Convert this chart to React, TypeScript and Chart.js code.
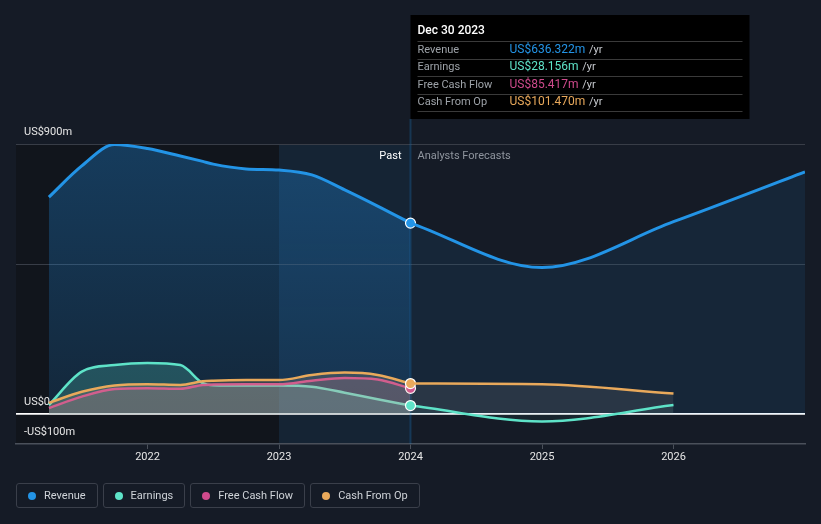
import { useEffect, useRef } from "react";
import { Chart, registerables } from "chart.js";

Chart.register(...registerables);

// ---- data ----
const pastDates = [2021.25, 2021.5, 2021.75, 2022, 2022.25, 2022.42, 2022.5, 2022.75, 2023, 2023.25, 2023.5, 2023.75, 2024];
const revenuePast = [723, 827, 898, 885, 860, 842, 833, 817, 813, 797, 747, 693, 636.322];
const earningsPast = [30, 141, 163, 170, 163, 103, 96, 95, 95, 91, 71, 49, 28.156];
const fcfPast = [20, 58, 83, 86, 84, 97, 98, 99, 99, 111, 120, 115, 85.417];
const cfoPast = [37, 74, 95, 99, 97, 109, 111, 113, 113, 130, 138, 130, 101.47];

const forecastDates = [2024, 2025, 2026, 2027];
const revenueForecast = [636.322, 488, 641, 807];
const earningsForecast = [28.156, -25, 30];
const cfoForecast = [101.47, 99, 68];

const yTickValues = [-100, 0, 500, 900];
const yTickLabels: Record<string, string> = { "900": "US$900m", "0": "US$0", "-100": "-US$100m" };
const xTickValues = [2022, 2023, 2024, 2025, 2026];

const tooltipTitle = "Dec 30 2023";
const tooltipRows = [
  { label: "Revenue", value: "US$636.322m" },
  { label: "Earnings", value: "US$28.156m" },
  { label: "Free Cash Flow", value: "US$85.417m" },
  { label: "Cash From Op", value: "US$101.470m" },
];
const legendLabels = ["Revenue", "Earnings", "Free Cash Flow", "Cash From Op"];

// ---- styles ----
const BLUE = "#2394e6";
const TEAL = "#5ee3c8";
const PINK = "#cf4a8c";
const ORANGE = "#e9a95b";
const seriesColors = [BLUE, TEAL, PINK, ORANGE];
const FONT = "Roboto, 'Noto Sans', sans-serif";
const PAGE_BG = "#151b26";

function pts(xs: number[], ys: number[]) {
  return ys.map((y, i) => ({ x: xs[i], y }));
}

const lastPast = pastDates.length - 1;

const decorPlugin = {
  id: "decor",
  beforeDraw(chart: any) {
    const { ctx, chartArea, scales } = chart;
    const x = scales.x;
    const x2023 = x.getPixelForValue(2023);
    const x2024 = x.getPixelForValue(2024);
    ctx.save();
    ctx.fillStyle = "#11151c";
    ctx.fillRect(chartArea.left, chartArea.top, x2023 - chartArea.left, chartArea.bottom - chartArea.top);
    ctx.fillStyle = "rgba(33,150,243,0.07)";
    ctx.fillRect(x2023, chartArea.top, x2024 - x2023, chartArea.bottom - chartArea.top);
    ctx.restore();
  },
  beforeDatasetsDraw(chart: any) {
    const { ctx, chartArea, scales } = chart;
    const x2024 = scales.x.getPixelForValue(2024);
    ctx.save();
    ctx.strokeStyle = "rgba(33,150,243,0.22)";
    ctx.lineWidth = 2;
    ctx.beginPath();
    ctx.moveTo(x2024, 119);
    ctx.lineTo(x2024, chartArea.bottom);
    ctx.stroke();
    ctx.font = `11px ${FONT}`;
    ctx.textBaseline = "middle";
    ctx.textAlign = "right";
    ctx.fillStyle = "#ffffff";
    ctx.fillText("Past", x2024 - 9, chartArea.top + 12);
    ctx.textAlign = "left";
    ctx.fillStyle = "#8f959e";
    ctx.fillText("Analysts Forecasts", x2024 + 7, chartArea.top + 12);
    ctx.restore();
  },
  afterDraw(chart: any) {
    const { ctx, scales } = chart;
    const x2024 = scales.x.getPixelForValue(2024);
    const left = x2024;
    const top = 15;
    const w = 339;
    const h = 104;
    ctx.save();
    ctx.fillStyle = "#000000";
    ctx.fillRect(left, top, w, h);
    ctx.textBaseline = "middle";
    ctx.textAlign = "left";
    ctx.font = `500 12px ${FONT}`;
    ctx.fillStyle = "#ffffff";
    ctx.fillText(tooltipTitle, left + 7, top + 16);
    const rowH = 17.5;
    ctx.strokeStyle = "#3a3a3a";
    ctx.lineWidth = 1;
    for (let i = 0; i <= tooltipRows.length; i++) {
      const yy = Math.round(top + 26 + i * rowH) + 0.5;
      ctx.beginPath();
      ctx.moveTo(left + 7, yy);
      ctx.lineTo(left + 332, yy);
      ctx.stroke();
    }
    tooltipRows.forEach((r, i) => {
      const cy = top + 26 + i * rowH + rowH / 2;
      ctx.font = `11px ${FONT}`;
      ctx.fillStyle = "#9ea3a9";
      ctx.fillText(r.label, left + 7, cy);
      ctx.font = `12px ${FONT}`;
      ctx.fillStyle = seriesColors[i];
      ctx.fillText(r.value, left + 99, cy);
      const vw = ctx.measureText(r.value).width;
      ctx.font = `11px ${FONT}`;
      ctx.fillStyle = "#c8cbd0";
      ctx.fillText(" /yr", left + 99 + vw + 1, cy);
    });
    ctx.restore();
  },
};

export default function App() {
  const canvasRef = useRef<HTMLCanvasElement | null>(null);

  useEffect(() => {
    const canvas = canvasRef.current;
    if (!canvas) return;
    const revGradient = (c: any) => {
      const chart = c.chart;
      const area = chart.chartArea;
      if (!area) return "rgba(33,150,243,0.2)";
      const y0 = chart.scales.y.getPixelForValue(0);
      const g = chart.ctx.createLinearGradient(0, area.top, 0, y0);
      g.addColorStop(0, "rgba(33,150,243,0.30)");
      g.addColorStop(1, "rgba(33,150,243,0.14)");
      return g;
    };
    const lastOnly = (r: number) => (c: any) => (c.dataIndex === lastPast ? r : 0);
    const firstOnly = (r: number) => (c: any) => (c.dataIndex === 0 ? r : 0);
    const common = {
      cubicInterpolationMode: "monotone" as const,
      borderWidth: 2.5,
      pointBorderColor: "#ffffff",
      pointBorderWidth: 1.2,
      pointHoverRadius: 0,
    };
    const chart = new Chart(canvas, {
      type: "line",
      data: {
        datasets: [
          {
            ...common,
            label: "Revenue",
            data: pts(pastDates, revenuePast),
            borderColor: BLUE,
            borderWidth: 3,
            backgroundColor: revGradient,
            fill: "origin",
            pointRadius: lastOnly(5),
            pointBackgroundColor: BLUE,
            order: 10,
          },
          {
            ...common,
            label: "Revenue forecast",
            data: pts(forecastDates, revenueForecast),
            borderColor: BLUE,
            borderWidth: 3,
            backgroundColor: "rgba(33,150,243,0.09)",
            fill: "origin",
            pointRadius: 0,
            order: 9,
          },
          {
            ...common,
            label: "Earnings",
            data: pts(pastDates, earningsPast),
            borderColor: TEAL,
            backgroundColor: "rgba(94,227,200,0.22)",
            fill: "origin",
            pointRadius: 0,
            order: 8,
          },
          {
            ...common,
            label: "Free Cash Flow",
            data: pts(pastDates, fcfPast),
            borderColor: PINK,
            backgroundColor: "rgba(205,120,160,0.18)",
            fill: "origin",
            pointRadius: lastOnly(5),
            pointBackgroundColor: PINK,
            order: 7,
          },
          {
            ...common,
            label: "Cash From Op",
            data: pts(pastDates, cfoPast),
            borderColor: ORANGE,
            backgroundColor: "rgba(230,190,150,0.18)",
            fill: "origin",
            pointRadius: lastOnly(5),
            pointBackgroundColor: ORANGE,
            order: 6,
          },
          {
            ...common,
            label: "Cash From Op forecast",
            data: pts(forecastDates, cfoForecast),
            borderColor: ORANGE,
            backgroundColor: "rgba(200,190,180,0.11)",
            fill: "origin",
            pointRadius: 0,
            order: 5,
          },
          {
            ...common,
            label: "Earnings forecast",
            data: pts(forecastDates, earningsForecast),
            borderColor: TEAL,
            backgroundColor: "rgba(94,227,200,0.05)",
            fill: "origin",
            pointRadius: firstOnly(5),
            pointBackgroundColor: TEAL,
            order: 4,
          },
        ],
      },
      options: {
        animation: false,
        responsive: false,
        devicePixelRatio: 1,
        events: [],
        layout: { padding: { left: 16, right: 16, top: 144, bottom: 0 } },
        plugins: { legend: { display: false }, tooltip: { enabled: false } },
        scales: {
          x: {
            type: "linear",
            min: 2021,
            max: 2027,
            afterBuildTicks: (s: any) => {
              s.ticks = xTickValues.map((v) => ({ value: v }));
            },
            afterFit: (s: any) => {
              s.height = 80;
            },
            ticks: {
              autoSkip: false,
              maxRotation: 0,
              padding: 2,
              color: "#e6e6e6",
              font: { family: FONT, size: 11 },
              callback: (v: any) => String(v),
            },
            grid: { drawOnChartArea: false, drawTicks: true, tickLength: 5, color: "#4a505a" },
            border: { color: "#4a505a", width: 1.5 },
          },
          y: {
            type: "linear",
            min: -100,
            max: 900,
            afterBuildTicks: (s: any) => {
              s.ticks = yTickValues.map((v) => ({ value: v }));
            },
            afterFit: (s: any) => {
              s.width = 0;
            },
            ticks: {
              autoSkip: false,
              mirror: true,
              padding: 8,
              labelOffset: -12,
              color: "#e6e6e6",
              font: { family: FONT, size: 11 },
              callback: (v: any) => yTickLabels[String(v)] ?? "",
            },
            grid: {
              drawTicks: false,
              color: (c: any) => (c.tick && c.tick.value === 0 ? "#ffffff" : c.tick && c.tick.value === -100 ? "rgba(0,0,0,0)" : "#383d47"),
              lineWidth: (c: any) => (c.tick && c.tick.value === 0 ? 1.8 : 1),
            },
            border: { display: false },
          },
        },
      },
      plugins: [decorPlugin],
    });
    return () => chart.destroy();
  }, []);

  return (
    <div style={{ position: "fixed", left: 0, top: 0, width: 821, height: 524, background: PAGE_BG, overflow: "hidden" }}>
      <canvas ref={canvasRef} width={821} height={524} style={{ display: "block", width: 821, height: 524 }} />
      <div style={{ position: "absolute", left: 16, top: 483, display: "flex", gap: 5, fontFamily: FONT }}>
        {legendLabels.map((l, i) => (
          <div
            key={l}
            style={{
              height: 25,
              boxSizing: "border-box",
              border: "1px solid #3a3f4a",
              borderRadius: 3,
              display: "flex",
              alignItems: "center",
              padding: "0 11px 0 11px",
              gap: 8,
              color: "#cfd3d8",
              fontSize: 11,
            }}
          >
            <span style={{ width: 8, height: 8, borderRadius: 4, background: seriesColors[i], display: "inline-block" }} />
            <span>{l}</span>
          </div>
        ))}
      </div>
    </div>
  );
}
